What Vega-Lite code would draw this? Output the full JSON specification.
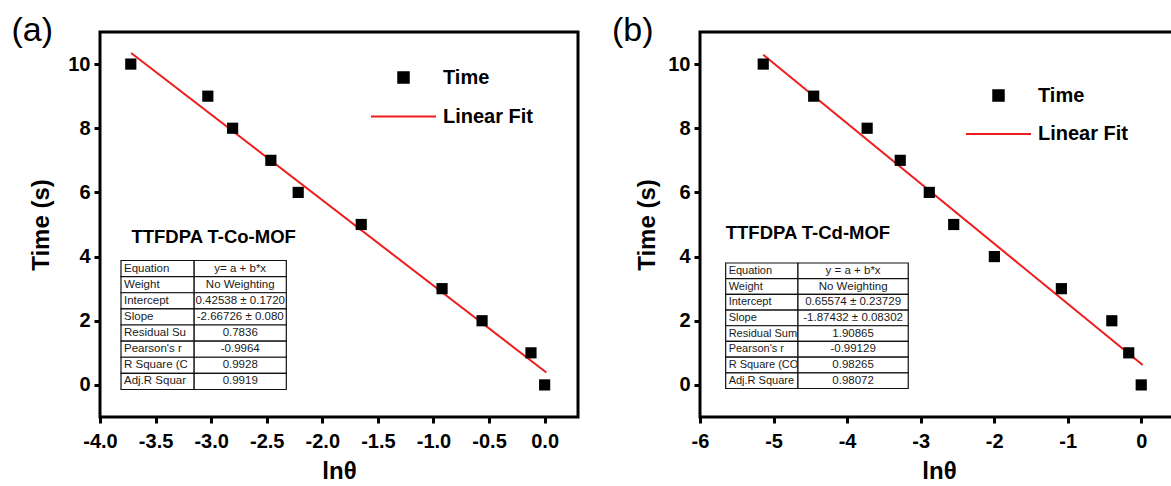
{
  "$schema": "https://vega.github.io/schema/vega-lite/v6.json",
  "background": "white",
  "padding": {"left": 10, "top": 12, "right": 0, "bottom": 0},
  "spacing": 122,
  "bounds": "flush",
  "resolve": {"scale": {"color": "independent", "x": "independent", "y": "independent"}, "legend": {"color": "independent"}},
  "config": {
    "font": "Liberation Sans",
    "view": {"stroke": "black", "strokeWidth": 3},
    "axis": {
      "domain": false, "grid": false, "ticks": true, "tickColor": "black", "tickWidth": 3, "tickSize": 6,
      "labelFlush": false, "labelOverlap": false,
      "labelFont": "Liberation Sans", "labelFontWeight": "bold", "labelFontSize": 20, "labelColor": "black",
      "titleFont": "Liberation Sans", "titleFontWeight": "bold", "titleFontSize": 24, "titleColor": "black"
    },
    "axisX": {"labelPadding": 8, "titlePadding": 8},
    "axisY": {"labelPadding": 4, "titlePadding": 13},
    "legend": {
      "orient": "none", "padding": 0, "labelFont": "Liberation Sans", "labelFontWeight": "bold",
      "labelFontSize": 20, "labelColor": "black", "symbolSize": 4225, "clipHeight": 20,
      "labelOffset": 6, "labelBaseline": "middle"
    },
    "title": {"font": "Liberation Sans", "fontSize": 34, "fontWeight": "normal", "color": "black", "anchor": "start", "frame": "group"}
  },
  "datasets": {
    "pointsA": [
      {"lnTheta": -3.723, "time": 10, "series": "Time"},
      {"lnTheta": -3.03, "time": 9, "series": "Time"},
      {"lnTheta": -2.807, "time": 8, "series": "Time"},
      {"lnTheta": -2.463, "time": 7, "series": "Time"},
      {"lnTheta": -2.217, "time": 6, "series": "Time"},
      {"lnTheta": -1.65, "time": 5, "series": "Time"},
      {"lnTheta": -0.923, "time": 3, "series": "Time"},
      {"lnTheta": -0.563, "time": 2, "series": "Time"},
      {"lnTheta": -0.123, "time": 1, "series": "Time"},
      {"lnTheta": 0.0, "time": 0, "series": "Time"}
    ],
    "fitA": [
      {"lnTheta": -3.72, "time": 10.347, "series": "Linear Fit"},
      {"lnTheta": 0.015, "time": 0.385, "series": "Linear Fit"}
    ],
    "labelA": [{"label": "TTFDPA T-Co-MOF"}],
    "tableA": [
      {"i": 0, "k": "Equation", "v": "y= a + b*x"},
      {"i": 1, "k": "Weight", "v": "No Weighting"},
      {"i": 2, "k": "Intercept", "v": "0.42538 ± 0.1720"},
      {"i": 3, "k": "Slope", "v": "-2.66726 ± 0.080"},
      {"i": 4, "k": "Residual Su", "v": "0.7836"},
      {"i": 5, "k": "Pearson's r", "v": "-0.9964"},
      {"i": 6, "k": "R Square (C", "v": "0.9928"},
      {"i": 7, "k": "Adj.R Squar", "v": "0.9919"}
    ],
    "pointsB": [
      {"lnTheta": -5.14, "time": 10, "series": "Time"},
      {"lnTheta": -4.454, "time": 9, "series": "Time"},
      {"lnTheta": -3.727, "time": 8, "series": "Time"},
      {"lnTheta": -3.277, "time": 7, "series": "Time"},
      {"lnTheta": -2.882, "time": 6, "series": "Time"},
      {"lnTheta": -2.55, "time": 5, "series": "Time"},
      {"lnTheta": -1.997, "time": 4, "series": "Time"},
      {"lnTheta": -1.086, "time": 3, "series": "Time"},
      {"lnTheta": -0.4, "time": 2, "series": "Time"},
      {"lnTheta": -0.17, "time": 1, "series": "Time"},
      {"lnTheta": 0.0, "time": 0, "series": "Time"}
    ],
    "fitB": [
      {"lnTheta": -5.14, "time": 10.29, "series": "Linear Fit"},
      {"lnTheta": 0.02, "time": 0.618, "series": "Linear Fit"}
    ],
    "labelB": [{"label": "TTFDPA T-Cd-MOF"}],
    "tableB": [
      {"i": 0, "k": "Equation", "v": "y = a + b*x"},
      {"i": 1, "k": "Weight", "v": "No Weighting"},
      {"i": 2, "k": "Intercept", "v": "0.65574 ± 0.23729"},
      {"i": 3, "k": "Slope", "v": "-1.87432 ± 0.08302"},
      {"i": 4, "k": "Residual Sum", "v": "1.90865"},
      {"i": 5, "k": "Pearson's r", "v": "-0.99129"},
      {"i": 6, "k": "R Square (CO", "v": "0.98265"},
      {"i": 7, "k": "Adj.R Square", "v": "0.98072"}
    ]
  },
  "hconcat": [
    {
      "width": 478, "height": 385,
      "title": {"text": "(a)", "dx": -88.5, "offset": -16},
      "layer": [
        {
          "data": {"name": "tableA"},
          "encoding": {
            "y": {"field": "i", "type": "ordinal", "scale": {"type": "band", "paddingInner": 0, "paddingOuter": 0, "range": [228.5, 357.5]}, "axis": null}
          },
          "layer": [
            {"mark": {"type": "rect", "fill": "white", "stroke": "#111111", "strokeWidth": 1.2},
             "encoding": {"x": {"datum": -3.811, "type": "quantitative", "scale": {"domain": [-4, 0.3], "nice": false, "zero": false}}, "x2": {"datum": -3.153}}},
            {"mark": {"type": "rect", "fill": "white", "stroke": "#111111", "strokeWidth": 1.2},
             "encoding": {"x": {"datum": -3.153, "type": "quantitative"}, "x2": {"datum": -2.324}}},
            {"mark": {"type": "text", "align": "left", "baseline": "middle", "dx": 3, "fontSize": 11.5, "color": "#1a1a1a"},
             "encoding": {"x": {"datum": -3.811, "type": "quantitative"}, "text": {"field": "k"}}},
            {"mark": {"type": "text", "align": "center", "baseline": "middle", "fontSize": 11.5, "color": "#1a1a1a"},
             "encoding": {"x": {"datum": -2.7385, "type": "quantitative"}, "text": {"field": "v"}}}
          ]
        },
        {
          "layer": [
            {
              "data": {"name": "fitA"},
              "mark": {"type": "line", "strokeWidth": 2},
              "encoding": {
                "x": {"field": "lnTheta", "type": "quantitative", "scale": {"domain": [-4, 0.3], "nice": false, "zero": false},
                  "axis": {"title": "lnθ", "values": [-4, -3.5, -3, -2.5, -2, -1.5, -1, -0.5, 0], "format": ".1f", "labelExpr": "replace(datum.label, '\u2212', '-')"}},
                "y": {"field": "time", "type": "quantitative", "scale": {"domain": [-1, 11], "nice": false, "zero": false},
                  "axis": {"title": "Time (s)", "values": [0, 2, 4, 6, 8, 10], "titlePadding": 14}},
                "color": {"field": "series", "type": "nominal", "scale": {"domain": ["Time", "Linear Fit"], "range": ["black", "#ee1c1c"]},
                  "legend": {"title": null, "legendX": 270, "legendY": 35.5, "rowPadding": 19,
                    "encode": {"symbols": {"update": {
                      "shape": {"signal": "datum.value === 'Time' ? 'square' : 'stroke'"},
                      "size": {"signal": "datum.value === 'Time' ? 110 : 4225"},
                      "fill": {"signal": "datum.value === 'Time' ? 'black' : 'transparent'"},
                      "stroke": {"signal": "datum.value === 'Time' ? 'transparent' : '#ee1c1c'"},
                      "strokeWidth": {"value": 2},
                      "opacity": {"value": 1}
                    }}}}}
              }
            },
            {
              "data": {"name": "pointsA"},
              "mark": {"type": "point", "shape": "square", "filled": true, "size": 125, "opacity": 1},
              "encoding": {
                "x": {"field": "lnTheta", "type": "quantitative"},
                "y": {"field": "time", "type": "quantitative"},
                "color": {"field": "series", "type": "nominal",
                  "legend": {"title": null, "legendX": 270, "legendY": 35.5, "rowPadding": 19,
                    "encode": {"symbols": {"update": {
                      "shape": {"signal": "datum.value === 'Time' ? 'square' : 'stroke'"},
                      "size": {"signal": "datum.value === 'Time' ? 110 : 4225"},
                      "fill": {"signal": "datum.value === 'Time' ? 'black' : 'transparent'"},
                      "stroke": {"signal": "datum.value === 'Time' ? 'transparent' : '#ee1c1c'"},
                      "strokeWidth": {"value": 2},
                      "opacity": {"value": 1}
                    }}}}}
              }
            },
            {
              "data": {"name": "labelA"},
              "mark": {"type": "text", "align": "left", "baseline": "middle", "fontSize": 18.5, "fontWeight": "bold", "color": "black"},
              "encoding": {
                "x": {"datum": -3.717},
                "y": {"datum": 4.61},
                "text": {"field": "label"}
              }
            }
          ]
        }
      ],
      "resolve": {"scale": {"y": "independent"}}
    },
    {
      "width": 478, "height": 385,
      "title": {"text": "(b)", "dx": -88, "offset": -16},
      "layer": [
        {
          "data": {"name": "tableB"},
          "encoding": {
            "y": {"field": "i", "type": "ordinal", "scale": {"type": "band", "paddingInner": 0, "paddingOuter": 0, "range": [231, 356.5]}, "axis": null}
          },
          "layer": [
            {"mark": {"type": "rect", "fill": "white", "stroke": "#111111", "strokeWidth": 1.2},
             "encoding": {"x": {"datum": -5.651, "type": "quantitative", "scale": {"domain": [-6, 0.5], "nice": false, "zero": false}}, "x2": {"datum": -4.668}}},
            {"mark": {"type": "rect", "fill": "white", "stroke": "#111111", "strokeWidth": 1.2},
             "encoding": {"x": {"datum": -4.668, "type": "quantitative"}, "x2": {"datum": -3.168}}},
            {"mark": {"type": "text", "align": "left", "baseline": "middle", "dx": 3, "fontSize": 11, "color": "#1a1a1a"},
             "encoding": {"x": {"datum": -5.651, "type": "quantitative"}, "text": {"field": "k"}}},
            {"mark": {"type": "text", "align": "center", "baseline": "middle", "fontSize": 11.5, "color": "#1a1a1a"},
             "encoding": {"x": {"datum": -3.918, "type": "quantitative"}, "text": {"field": "v"}}}
          ]
        },
        {
          "layer": [
            {
              "data": {"name": "fitB"},
              "mark": {"type": "line", "strokeWidth": 2},
              "encoding": {
                "x": {"field": "lnTheta", "type": "quantitative", "scale": {"domain": [-6, 0.5], "nice": false, "zero": false},
                  "axis": {"title": "lnθ", "values": [-6, -5, -4, -3, -2, -1, 0], "format": "d", "labelExpr": "replace(datum.label, '\u2212', '-')"}},
                "y": {"field": "time", "type": "quantitative", "scale": {"domain": [-1, 11], "nice": false, "zero": false},
                  "axis": {"title": "Time (s)", "values": [0, 2, 4, 6, 8, 10], "titlePadding": 8}},
                "color": {"field": "series", "type": "nominal", "scale": {"domain": ["Time", "Linear Fit"], "range": ["black", "#ee1c1c"]},
                  "legend": {"title": null, "legendX": 265, "legendY": 53.5, "rowPadding": 18.5,
                    "encode": {"symbols": {"update": {
                      "shape": {"signal": "datum.value === 'Time' ? 'square' : 'stroke'"},
                      "size": {"signal": "datum.value === 'Time' ? 110 : 4225"},
                      "fill": {"signal": "datum.value === 'Time' ? 'black' : 'transparent'"},
                      "stroke": {"signal": "datum.value === 'Time' ? 'transparent' : '#ee1c1c'"},
                      "strokeWidth": {"value": 2},
                      "opacity": {"value": 1}
                    }}}}}
              }
            },
            {
              "data": {"name": "pointsB"},
              "mark": {"type": "point", "shape": "square", "filled": true, "size": 125, "opacity": 1},
              "encoding": {
                "x": {"field": "lnTheta", "type": "quantitative"},
                "y": {"field": "time", "type": "quantitative"},
                "color": {"field": "series", "type": "nominal",
                  "legend": {"title": null, "legendX": 265, "legendY": 53.5, "rowPadding": 18.5,
                    "encode": {"symbols": {"update": {
                      "shape": {"signal": "datum.value === 'Time' ? 'square' : 'stroke'"},
                      "size": {"signal": "datum.value === 'Time' ? 110 : 4225"},
                      "fill": {"signal": "datum.value === 'Time' ? 'black' : 'transparent'"},
                      "stroke": {"signal": "datum.value === 'Time' ? 'transparent' : '#ee1c1c'"},
                      "strokeWidth": {"value": 2},
                      "opacity": {"value": 1}
                    }}}}}
              }
            },
            {
              "data": {"name": "labelB"},
              "mark": {"type": "text", "align": "left", "baseline": "middle", "fontSize": 18.5, "fontWeight": "bold", "color": "black"},
              "encoding": {
                "x": {"datum": -5.65},
                "y": {"datum": 4.74},
                "text": {"field": "label"}
              }
            }
          ]
        }
      ],
      "resolve": {"scale": {"y": "independent"}}
    }
  ]
}
